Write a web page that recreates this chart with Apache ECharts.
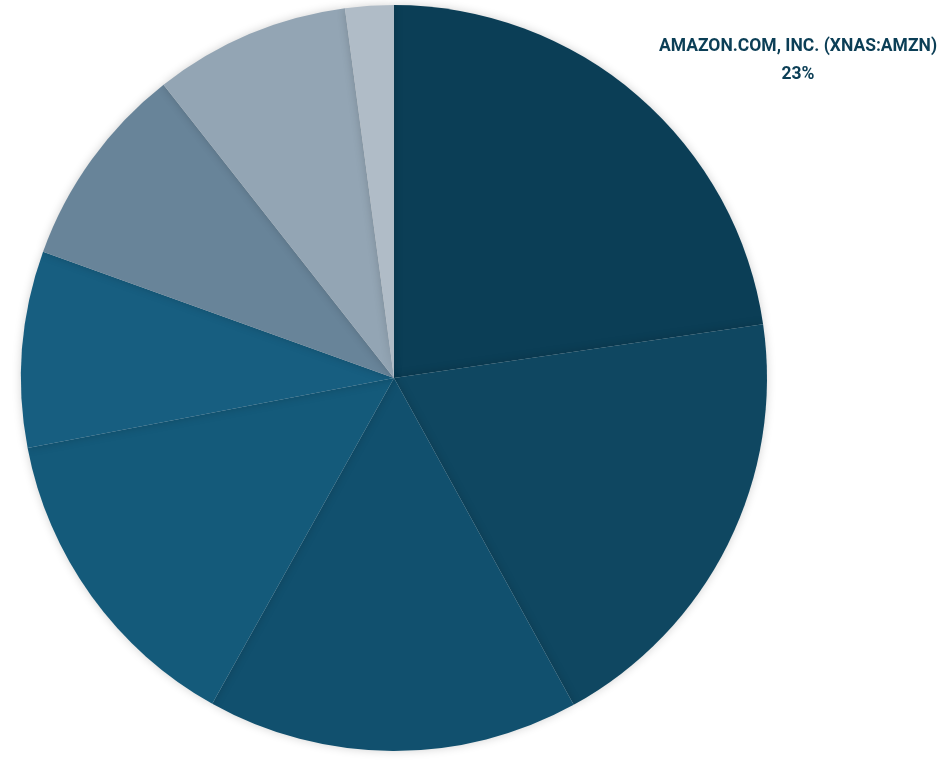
<!DOCTYPE html>
<html><head><meta charset="utf-8">
<script src="https://cdn.jsdelivr.net/npm/echarts@6/dist/echarts.min.js"></script>
<style>html,body{margin:0;padding:0;background:#fff}#c{width:948px;height:764px}</style>
</head><body><div id="c"></div>
<script>
const names = ["AMAZON.COM, INC. (XNAS:AMZN)", "Holding 2", "Holding 3", "Holding 4", "Holding 5", "Holding 6", "Holding 7", "Holding 8"];
const values = [22.7, 19.3, 16.1, 13.9, 8.5, 8.9, 8.5, 2.1];
const colors = ["#0b3e56", "#0f4761", "#11506e", "#145a7a", "#175e80", "#688499", "#93a5b4", "#b0bcc7"];

const chart = echarts.init(document.getElementById('c'));
chart.setOption({
  animation: false,
  series: [{
    type: 'pie',
    center: [394, 378],
    radius: [0, 373],
    startAngle: 90,
    clockwise: true,
    itemStyle: { shadowBlur: 10, shadowColor: 'rgba(0,0,0,0.18)' },
    labelLine: { show: false },
    data: names.map((n, i) => ({
      name: n, value: values[i],
      itemStyle: { color: colors[i] },
      label: i === 0 ? {
        show: true,
        formatter: '{b}\n23%',
        color: '#0b3e56',
        fontFamily: 'Roboto',
        fontWeight: 'bold',
        fontSize: 17.5,
        lineHeight: 28,
        align: 'center',
        width: 400,
        overflow: 'none'
      } : { show: false }
    })),
    labelLayout: function (p) {
      if (p.dataIndex === 0) return { x: 798, y: 61, align: 'center', verticalAlign: 'middle' };
      return {};
    }
  }]
});
</script></body></html>
